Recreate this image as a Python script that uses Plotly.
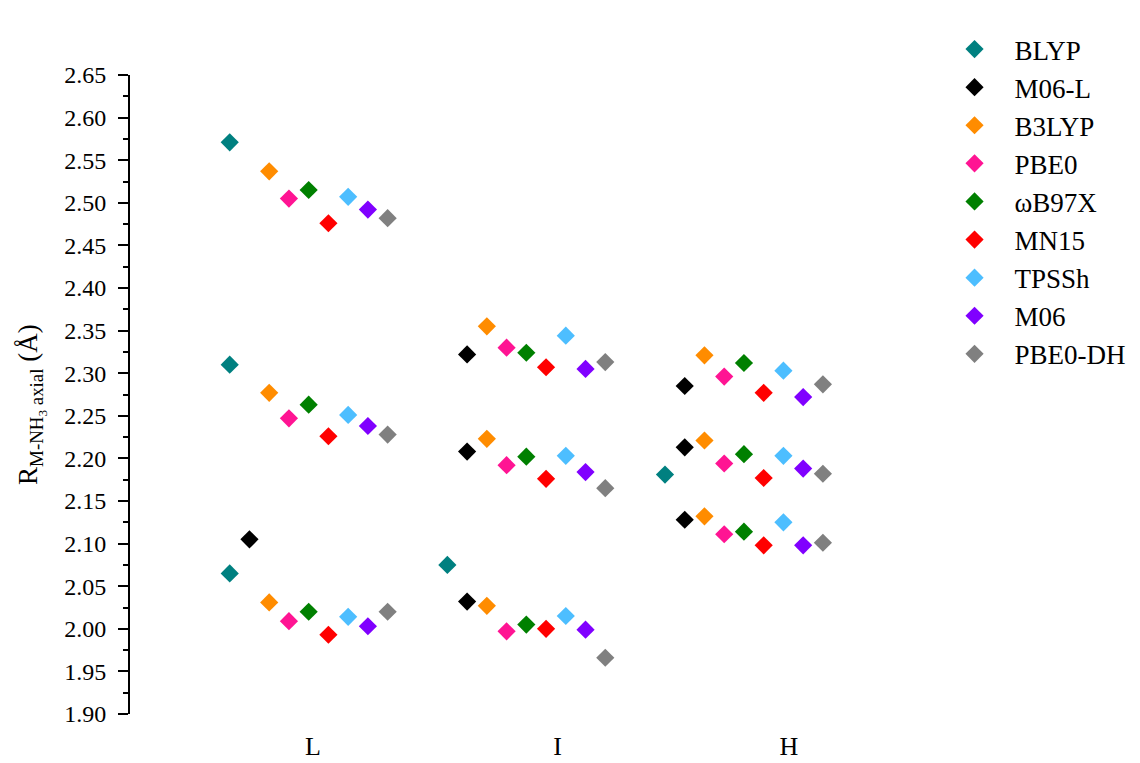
import plotly.graph_objects as go

categories = ["L", "I", "H"]
methods = ["BLYP", "M06-L", "B3LYP", "PBE0", "ωB97X", "MN15", "TPSSh", "M06", "PBE0-DH"]
colors = ["#008080", "#000000", "#FF8C00", "#FF1493", "#008000", "#FF0000", "#4DBEFF", "#8000FF", "#808080"]

# values per category and level (one value per method, None = missing)
L_high = [2.571, None, 2.537, 2.505, 2.515, 2.476, 2.507, 2.492, 2.482]
L_mid = [2.310, None, 2.277, 2.247, 2.263, 2.226, 2.251, 2.238, 2.228]
L_low = [2.065, 2.105, 2.031, 2.009, 2.020, 1.993, 2.014, 2.003, 2.020]
I_high = [None, 2.322, 2.355, 2.330, 2.324, 2.307, 2.344, 2.305, 2.313]
I_mid = [None, 2.208, 2.223, 2.192, 2.202, 2.176, 2.203, 2.184, 2.165]
I_low = [2.075, 2.032, 2.027, 1.997, 2.005, 2.000, 2.015, 1.999, 1.966]
H_high = [None, 2.285, 2.321, 2.296, 2.312, 2.277, 2.303, 2.272, 2.287]
H_mid = [2.181, 2.213, 2.221, 2.194, 2.205, 2.177, 2.203, 2.188, 2.182]
H_low = [None, 2.128, 2.132, 2.111, 2.114, 2.098, 2.125, 2.098, 2.101]

y_title = "R<sub>M-NH<sub>3</sub> axial</sub> (Å)"

groups = [[L_high, L_mid, L_low], [I_high, I_mid, I_low], [H_high, H_mid, H_low]]
label_pos = [0.02, 1.144, 2.207]
offset = 0.0907

fig = go.Figure()
for j, (m, c) in enumerate(zip(methods, colors)):
    xs, ys = [], []
    for ci, levels in enumerate(groups):
        for lv in levels:
            if lv[j] is not None:
                xs.append(ci + (j - 4) * offset)
                ys.append(lv[j])
    fig.add_trace(go.Scatter(
        x=xs, y=ys, mode="markers", name=m, legendgroup=m,
        marker=dict(symbol="diamond", size=14, color=c, line=dict(width=0)),
    ))

fig.add_annotation(
    text=y_title, xref="paper", yref="paper", x=-0.127, y=0.484,
    xanchor="center", yanchor="middle", textangle=-90, showarrow=False,
    font=dict(family="Liberation Serif", size=27, color="black"),
)

fig.update_layout(
    width=1132, height=755,
    margin=dict(l=122, r=240, t=67, b=49, autoexpand=False),
    paper_bgcolor="white", plot_bgcolor="white",
    font=dict(family="Liberation Serif", color="black", size=20),
    showlegend=True,
    legend=dict(
        xref="container", yref="container", x=0.8185, y=0.9775,
        xanchor="left", yanchor="top",
        font=dict(family="Liberation Serif", size=27, color="black"),
        tracegroupgap=0, traceorder="grouped", itemwidth=70,
        bgcolor="rgba(0,0,0,0)",
    ),
    xaxis=dict(
        range=[-0.821, 2.717], showgrid=False, zeroline=False, showline=False,
        automargin=False,
        tickmode="array", tickvals=label_pos, ticktext=categories, ticks="",
        tickfont=dict(family="Liberation Serif", size=26, color="black"),
        ticklabelstandoff=14,
    ),
    yaxis=dict(
        range=[1.90, 2.65], showgrid=False, zeroline=False, automargin=False,
        showline=True, linecolor="black", linewidth=2,
        tickmode="linear", tick0=1.90, dtick=0.05, tickformat=".2f",
        ticks="outside", ticklen=10, tickwidth=2, tickcolor="black",
        minor=dict(ticks="outside", ticklen=5, tickwidth=1.5, tickcolor="black", dtick=0.025, tick0=1.90),
        tickfont=dict(family="Liberation Serif", size=24, color="black"),
        ticklabelstandoff=7,
    ),
)

fig.write_html("out.html")
